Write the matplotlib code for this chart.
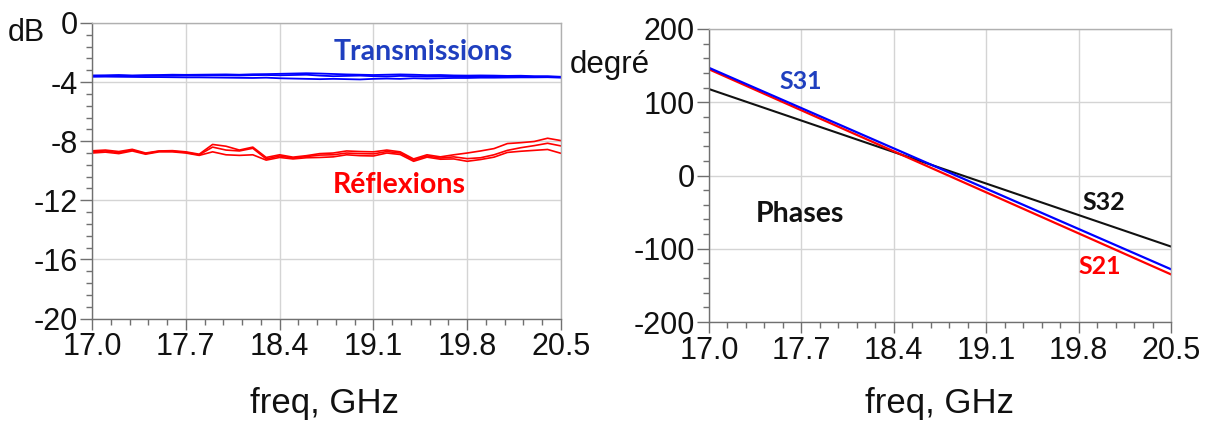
import numpy as np
import matplotlib
matplotlib.use("Agg")
import matplotlib.pyplot as plt
from matplotlib.ticker import FixedLocator

# ---------------- data ----------------
freq = [17.0, 17.1, 17.2, 17.3, 17.4, 17.5, 17.6, 17.7, 17.8, 17.9,
        18.0, 18.1, 18.2, 18.3, 18.4, 18.5, 18.6, 18.7, 18.8, 18.9,
        19.0, 19.1, 19.2, 19.3, 19.4, 19.5, 19.6, 19.7, 19.8, 19.9,
        20.0, 20.1, 20.2, 20.3, 20.4, 20.5]

trans_1 = [-3.55, -3.54, -3.52, -3.55, -3.53, -3.52, -3.50, -3.51, -3.50, -3.49,
           -3.48, -3.50, -3.47, -3.46, -3.44, -3.42, -3.40, -3.42, -3.45, -3.48,
           -3.50, -3.52, -3.50, -3.48, -3.50, -3.53, -3.52, -3.55, -3.56, -3.55,
           -3.56, -3.58, -3.57, -3.60, -3.60, -3.64]
trans_2 = [-3.58, -3.58, -3.57, -3.58, -3.57, -3.56, -3.56, -3.55, -3.55, -3.54,
           -3.54, -3.55, -3.53, -3.52, -3.54, -3.52, -3.50, -3.56, -3.60, -3.58,
           -3.56, -3.60, -3.62, -3.58, -3.60, -3.62, -3.60, -3.62, -3.62, -3.61,
           -3.62, -3.63, -3.62, -3.64, -3.64, -3.66]
trans_3 = [-3.64, -3.63, -3.64, -3.65, -3.66, -3.66, -3.67, -3.68, -3.68, -3.69,
           -3.70, -3.71, -3.72, -3.70, -3.74, -3.76, -3.78, -3.80, -3.78, -3.80,
           -3.82, -3.78, -3.76, -3.78, -3.74, -3.76, -3.74, -3.72, -3.72, -3.70,
           -3.70, -3.69, -3.68, -3.68, -3.67, -3.70]

refl_1 = [-8.65, -8.60, -8.70, -8.55, -8.80, -8.66, -8.64, -8.72, -8.88, -8.22,
          -8.34, -8.60, -8.40, -9.10, -8.92, -9.08, -8.98, -8.84, -8.80, -8.66,
          -8.70, -8.72, -8.60, -8.72, -9.20, -8.92, -9.06, -8.92, -8.80, -8.66,
          -8.50, -8.16, -8.10, -8.02, -7.80, -7.96]
refl_2 = [-8.72, -8.66, -8.78, -8.60, -8.84, -8.68, -8.68, -8.76, -8.92, -8.40,
          -8.60, -8.66, -8.48, -9.20, -9.00, -9.14, -9.04, -8.94, -8.92, -8.80,
          -8.84, -8.86, -8.70, -8.80, -9.28, -9.00, -9.14, -9.06, -9.18, -9.12,
          -8.92, -8.62, -8.44, -8.30, -8.14, -8.32]
refl_3 = [-8.80, -8.74, -8.84, -8.66, -8.88, -8.72, -8.72, -8.80, -8.96, -8.72,
          -8.92, -8.96, -8.92, -9.28, -9.10, -9.20, -9.12, -9.10, -9.06, -8.92,
          -8.98, -9.00, -8.80, -8.90, -9.36, -9.08, -9.22, -9.20, -9.36, -9.24,
          -9.08, -8.76, -8.68, -8.62, -8.56, -8.82]

phase_freq = [17.0, 17.7, 18.4, 19.1, 19.8, 20.5]
phase_s31 = [147, 92, 37, -18, -73, -128]
phase_s21 = [145, 89, 33, -23, -79, -135]
phase_s32 = [118, 75, 32, -11, -54, -97]

xticks = [17.0, 17.7, 18.4, 19.1, 19.8, 20.5]
xtick_labels = ["17.0", "17.7", "18.4", "19.1", "19.8", "20.5"]
yticks_mag = [0, -4, -8, -12, -16, -20]
yticks_phase = [200, 100, 0, -100, -200]

# ---------------- figure ----------------
W, H = 1212, 421
plt.rcParams['font.family'] = ['Liberation Sans', 'DejaVu Sans']
plt.rcParams['axes.unicode_minus'] = False
fig = plt.figure(figsize=(W / 100, H / 100), dpi=100)

def px_axes(x0, y0, x1, y1):
    return fig.add_axes([x0 / W, 1 - y1 / H, (x1 - x0) / W, (y1 - y0) / H])

ax1 = px_axes(92, 23, 561, 318.5)
ax2 = px_axes(709, 29, 1171, 322)

def style(ax, yticks, ymin, ymax, ynminor):
    ax.set_xlim(17.0, 20.5)
    ax.set_ylim(ymin, ymax)
    ax.xaxis.set_major_locator(FixedLocator(xticks))
    ax.set_xticklabels(xtick_labels)
    ax.xaxis.set_minor_locator(FixedLocator(np.linspace(17.0, 20.5, 26)))
    ax.yaxis.set_major_locator(FixedLocator(yticks))
    ax.yaxis.set_minor_locator(FixedLocator(np.linspace(ymin, ymax, ynminor)))
    ax.grid(True, which='major', color='#d4d4d4', lw=1.0)
    ax.set_axisbelow(True)
    for s in ['left', 'bottom']:
        ax.spines[s].set_color('#707070')
        ax.spines[s].set_linewidth(1.0)
    for s in ['top', 'right']:
        ax.spines[s].set_color('#b0b0b0')
        ax.spines[s].set_linewidth(1.0)
    ax.tick_params(axis='both', which='major', labelsize=22, colors='#707070',
                   labelcolor='#111111')
    ax.tick_params(axis='x', which='major', length=8, width=1, pad=2)
    ax.tick_params(axis='x', which='minor', length=4.5, width=1, colors='#707070')
    ax.tick_params(axis='y', which='major', length=9, width=1, pad=1)
    ax.tick_params(axis='y', which='minor', length=4.5, width=1, colors='#707070')

style(ax1, yticks_mag, -20, 0, 26)
style(ax2, yticks_phase, -200, 200, 21)

for s in (trans_1, trans_2, trans_3):
    ax1.plot(freq, s, color='#0000ff', lw=1.3)
for s in (refl_1, refl_2, refl_3):
    ax1.plot(freq, s, color='#ff0000', lw=1.2)

ax2.plot(phase_freq, phase_s32, color='#111111', lw=1.5)
ax2.plot(phase_freq, phase_s21, color='#ff0000', lw=1.6)
ax2.plot(phase_freq, phase_s31, color='#0000ff', lw=1.6)

def ftext(x, y, s, **kw):
    fig.text(x / W, 1 - y / H, s, **kw)

ftext(324, 403, 'freq, GHz', fontsize=25, ha='center', va='center', color='#111111')
ftext(940, 403, 'freq, GHz', fontsize=25, ha='center', va='center', color='#111111')

ftext(26, 33, 'dB', fontsize=22, ha='center', va='center', color='#111111')
ftext(570, 73, 'degré', fontsize=22.5, ha='left', va='baseline', color='#111111')

lab = dict(family=['Lato', 'DejaVu Sans'], fontweight='bold', va='baseline', ha='center')
ftext(423, 60, 'Transmissions', fontsize=20.5, color='#1f3fbf', **lab)
ftext(399, 193, 'Réflexions', fontsize=20.5, color='#ff0000', **lab)
ftext(801, 89, 'S31', fontsize=18, color='#1f3fbf', **lab)
ftext(1104, 210, 'S32', fontsize=18, color='#111111', **lab)
ftext(1100, 274, 'S21', fontsize=18, color='#ff0000', **lab)
ftext(800, 222, 'Phases', fontsize=20.5, color='#111111', **lab)

fig.savefig('out.png', dpi=100)
